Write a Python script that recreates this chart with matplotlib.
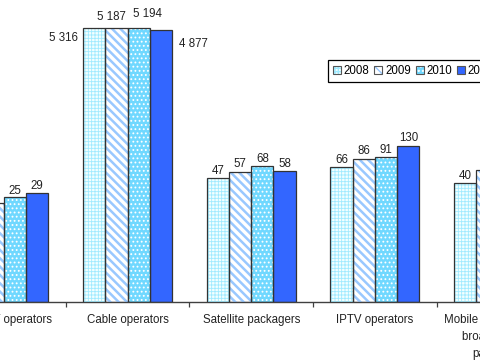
import matplotlib
matplotlib.use("Agg")
import matplotlib.pyplot as plt
from matplotlib.patches import Patch
from matplotlib.legend_handler import HandlerTuple
import numpy as np

plt.rcParams['font.family'] = ['Liberation Sans', 'DejaVu Sans']
plt.rcParams['font.size'] = 8.3

# data
categories = ['Pay DTT operators', 'Cable operators', 'Satellite packagers',
              'IPTV operators', 'Mobile operators and\nbroadband TV\npackagers']
years = ['2008', '2009', '2010', '2011']
v2008 = [18, 5316, 47, 66, 40]
v2009 = [21, 5187, 57, 86, 60]
v2010 = [25, 5194, 68, 91, 75]
v2011 = [29, 4877, 58, 130, 90]
series = [v2008, v2009, v2010, v2011]

# styles: face, hatch colour, hatch, hatch linewidth
styles = [
    ('#f2ffff', '#a0eaff', '+++++', 0.6),
    ('#ffffff', '#99c8ff', '\\\\\\\\', 1.8),
    ('#70d8ff', '#ffffff', '....', 0.8),
    ('#3366ff', None, None, 0),
]
edge = '#333333'

# label offsets in pixels (dx, dy) from bar top, default above the bar
label_off = {(1, 0): (-31, -10), (1, 1): (-5, 11), (1, 2): (9, 14), (1, 3): (33, -14)}

fig = plt.figure(figsize=(4.8, 3.6), dpi=100)
ax = fig.add_axes([0, 58.5 / 360, 1, 294 / 360])

x = np.arange(len(categories))
w = 0.18


def fmt(v):
    return f'{v:,}'.replace(',', ' ')


handles = []
for j, vals in enumerate(series):
    face, hcol, hatch, hlw = styles[j]
    pos = x + (j - 1.5) * w
    ax.bar(pos, vals, w, bottom=1, color=face, linewidth=0, zorder=2)
    hp = None
    if hatch:
        with plt.rc_context({'hatch.linewidth': hlw}):
            bars = ax.bar(pos, vals, w, bottom=1, facecolor='none', edgecolor=hcol,
                          hatch=hatch, linewidth=0, zorder=3)
            for b in bars:
                if hasattr(b, 'set_hatch_linewidth'):
                    b.set_hatch_linewidth(hlw)
            hp = Patch(facecolor='none', edgecolor=hcol, hatch=hatch, linewidth=0)
            if hasattr(hp, 'set_hatch_linewidth'):
                hp.set_hatch_linewidth(hlw)
    ax.bar(pos, vals, w, bottom=1, facecolor='none', edgecolor=edge, linewidth=0.9, zorder=4)
    for i, v in enumerate(vals):
        dx, dy = label_off.get((i, j), (0, 8))
        ax.annotate(fmt(v), (pos[i], v), xytext=(dx, dy), textcoords='offset pixels',
                    ha='center', va='center', color='#222222', fontsize=8.3, zorder=5,
                    annotation_clip=False)
    parts = [Patch(facecolor=face, linewidth=0)]
    if hp is not None:
        parts.append(hp)
    parts.append(Patch(facecolor='none', edgecolor='#555555', linewidth=0.8))
    handles.append(tuple(parts))

ax.set_yscale('log')
ax.set_ylim(1, 10000)

for s in ['top', 'left', 'right']:
    ax.spines[s].set_visible(False)
ax.spines['bottom'].set_color('#404040')
ax.spines['bottom'].set_linewidth(1.0)
ax.set_yticks([])
ax.minorticks_off()
ax.set_xticks([])
ax.set_xticks(np.arange(-0.5, len(categories) + 0.5), minor=True)
ax.tick_params(axis='x', which='minor', length=3.5, width=0.9, color='#404040',
               direction='out', labelbottom=False)
ax.set_xlim((0 - 3.8) / 123.7, (480 - 3.8) / 123.7)
ax.set_facecolor('white')

# category labels (some groups run off the edges, so drawn as texts)
for i, cat in enumerate(categories):
    ax.annotate(cat, (i, 0), xycoords=('data', 'axes fraction'), xytext=(0, -13),
                textcoords='offset pixels', ha='center', va='top', color='#222222',
                fontsize=8.3, linespacing=1.5, annotation_clip=False)

leg = fig.legend(handles, years, handler_map={tuple: HandlerTuple(ndivide=1, pad=0)},
                 loc='upper left', bbox_to_anchor=(328 / 480, 1 - 60 / 360),
                 ncol=4, fontsize=8.3, handlelength=0.7, handleheight=0.7,
                 handletextpad=0.22, columnspacing=0.42, borderpad=0.45,
                 borderaxespad=0, fancybox=False, framealpha=1, edgecolor='black')
leg.get_frame().set_linewidth(0.9)

fig.savefig('out.png', dpi=100)
